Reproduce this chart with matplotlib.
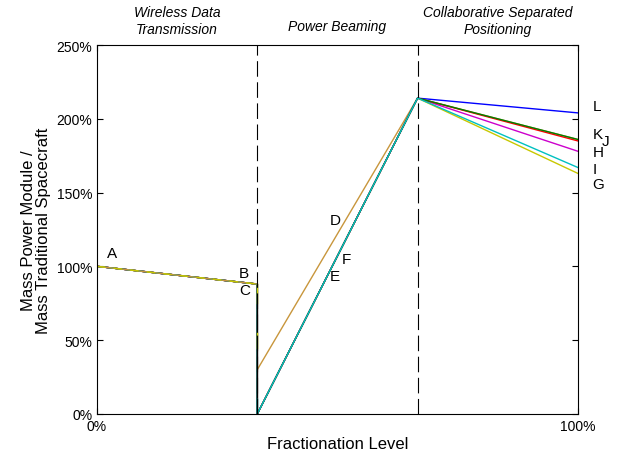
import numpy as np
import matplotlib.pyplot as plt

plt.rcParams['font.family'] = ['Liberation Sans', 'DejaVu Sans']

# piecewise curves: fraction level -> mass ratio (%)
x_pts = [0, 1/3, 1/3, 2/3, 1]
x_left = [0, 1/3, 1/3]
left_vals = [100, 88, 0]

tan_vals = [100, 88, 30, 214, 186]
series_names = ['G', 'H', 'L', 'K', 'J', 'I']
series_colors = ['#c8c800', '#cc00cc', '#0000ff', '#ff0000', '#008000', '#00c0c0']
series_end = [163, 178, 204, 185, 186, 167]
peak = 214

label_text = ['A', 'B', 'C', 'D', 'E', 'F', 'L', 'K', 'J', 'H', 'I', 'G']
label_x = [0.02, 0.295, 0.295, 0.485, 0.485, 0.51, 1.03, 1.03, 1.05, 1.03, 1.03, 1.03]
label_y = [104, 91, 79, 127, 89, 100, 204, 185, 180, 173, 161, 151]

titles = ['Wireless Data\nTransmission', 'Power Beaming', 'Collaborative Separated\nPositioning']
title_x = [1/6, 1/2, 5/6]
title_y = [256, 263, 256]
title_va = ['bottom', 'center', 'bottom']

fig = plt.figure(figsize=(6.18, 4.6), dpi=100)
ax = fig.add_axes([0.157, 0.098, 0.778, 0.802])

# black drop at one third
ax.plot(x_left, left_vals, color='black', lw=1)
ax.plot(x_pts, tan_vals, color='#c8963c', lw=1)
for c, e in zip(series_colors, series_end):
    ax.plot(x_pts, [100, 88, 0, peak, e], color=c, lw=1)
# shared segment: tan / yellow alternating, black drop with yellow gap
ax.plot(x_left[:2], [100, 88], color='#c8963c', lw=1)
ax.plot(x_left[:2], [100, 88], color='#c8c800', lw=1, dashes=(6, 6))
ax.plot([1/3, 1/3], [88, 0], color='black', lw=1)
ax.plot([1/3, 1/3], [55, 45], color='#c8c800', lw=1)
ax.plot([1/3, 1/3], [88, 75], color='#c8c800', lw=1)
ax.plot([1/3, 1/3], [10, 0], color='#00c0c0', lw=1)

for xv in [1/3, 2/3]:
    ax.plot([xv, xv], [0, 250], color='black', lw=0.8, dashes=(14, 5))

for t, lx, ly in zip(label_text, label_x, label_y):
    ax.text(lx, ly, t, fontsize=11, ha='left', va='bottom', clip_on=False)

for txt, xc, yc, va in zip(titles, title_x, title_y, title_va):
    ax.text(xc, yc, txt, fontsize=10, style='italic', ha='center', va=va,
            linespacing=1.25)

ax.set_xlim(0, 1)
ax.set_ylim(0, 250)
ax.set_xticks([0, 1])
ax.set_xticklabels(['0%', '100%'])
ax.set_yticks(np.arange(0, 251, 50))
ax.set_yticklabels([f'{v}%' for v in range(0, 251, 50)])
ax.tick_params(direction='in', top=True, right=True, labelsize=10, length=4)
ax.set_xlabel('Fractionation Level', fontsize=12, labelpad=2)
ax.set_ylabel('Mass Power Module /\nMass Traditional Spacecraft', fontsize=12,
              linespacing=1.0)

fig.savefig('out.png', dpi=100)
